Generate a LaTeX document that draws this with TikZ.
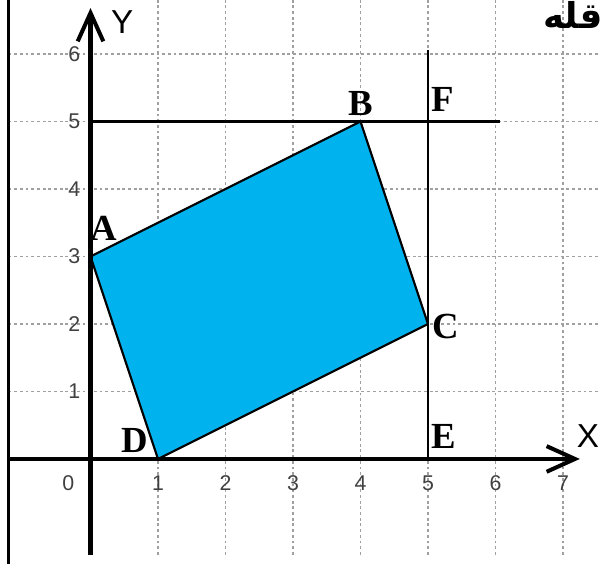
\documentclass[tikz,border=0pt]{standalone}
\usepackage{fontspec}
\setmainfont{Liberation Serif}
\setsansfont{Liberation Sans}
\newfontfamily\arabicfont[Script=Arabic]{DejaVu Sans}
\TeXXeTstate=1
\usetikzlibrary{arrows.meta}
\definecolor{rectfill}{HTML}{00B2EE}
\definecolor{gridgray}{HTML}{A0A0A0}
\definecolor{ticktext}{HTML}{404040}
\tikzset{
  gridline/.style={draw=gridgray, line width=0.6pt, dash pattern=on 1.2pt off 1.2pt},
  axisline/.style={line width=1.7pt, -{Straight Barb[length=4.2mm,width=3.8mm]}},
  thinline/.style={line width=1pt},
  ticklbl/.style={font=\sffamily\fontsize{9}{10}\selectfont, text=ticktext, inner sep=0pt},
  axislbl/.style={font=\sffamily\fontsize{14}{16}\selectfont, inner sep=0pt},
  ptlbl/.style={font=\bfseries\fontsize{15.5}{17}\selectfont, inner sep=0pt},
}
\begin{document}
\begin{tikzpicture}
    \useasboundingbox (-1.341,-1.556) rectangle (7.593,6.8);
    % grid
    \foreach \y in {1,...,6}
      \draw[gridline] (-1.215,\y) -- (7.52,\y);
    \foreach \x in {1,...,7}
      \draw[gridline] (\x,-1.42) -- (\x,6.8);
    \draw[line width=1pt] (-1.215,-1.556) -- (-1.215,6.8);
    % points
    \coordinate (A) at (0,3);
    \coordinate (B) at (4,5);
    \coordinate (C) at (5,2);
    \coordinate (D) at (1,0);
    \coordinate (E) at (5,0);
    \coordinate (F) at (5,5);
    \coordinate (Fh) at (5,6.06);
    \coordinate (Bh) at (6.07,5);
    \draw[thinline] (0,5) -- (Bh);
    \draw[thinline] (E) -- (Fh);
    \filldraw[fill=rectfill, draw=black, line width=0.9pt, line join=round]
      (A) -- (B) -- (C) -- (D) -- cycle;
    % axes
    \coordinate (xs) at (-1.215,0);
    \coordinate (xe) at (7.25,0);
    \coordinate (ys) at (0,-1.42);
    \coordinate (ye) at (0,6.68);
    \draw[axisline] (xs) -- (xe);
    \draw[axisline] (ys) -- (ye);
    \node[axislbl] (lx) at (7.37,0.34) {X};
    \node[axislbl] (ly) at (0.47,6.47) {Y};
    % ticks
    \foreach \x in {1,...,7}
      \node[ticklbl] (tx\x) at (\x,-0.36) {\x};
    \node[ticklbl] (t0) at (-0.33,-0.36) {0};
    \foreach \y in {1,...,6}
      \node[ticklbl] (ty\y) at (-0.24,\y) {\y};
    % labels
    \node[ptlbl] (lA) at (0.2,3.42) {A};
    \node[ptlbl] (lB) at (4.0,5.27) {B};
    \node[ptlbl] (lC) at (5.27,1.96) {C};
    \node[ptlbl] (lD) at (0.66,0.28) {D};
    \node[ptlbl] (lE) at (5.24,0.33) {E};
    \node[ptlbl] (lF) at (5.22,5.32) {F};
    \node[anchor=north east, inner sep=0pt, font=\arabicfont\bfseries\fontsize{15}{17}\selectfont] (titre)
      at (7.593,6.78) {\beginR قله\endR};
\end{tikzpicture}
\end{document}
